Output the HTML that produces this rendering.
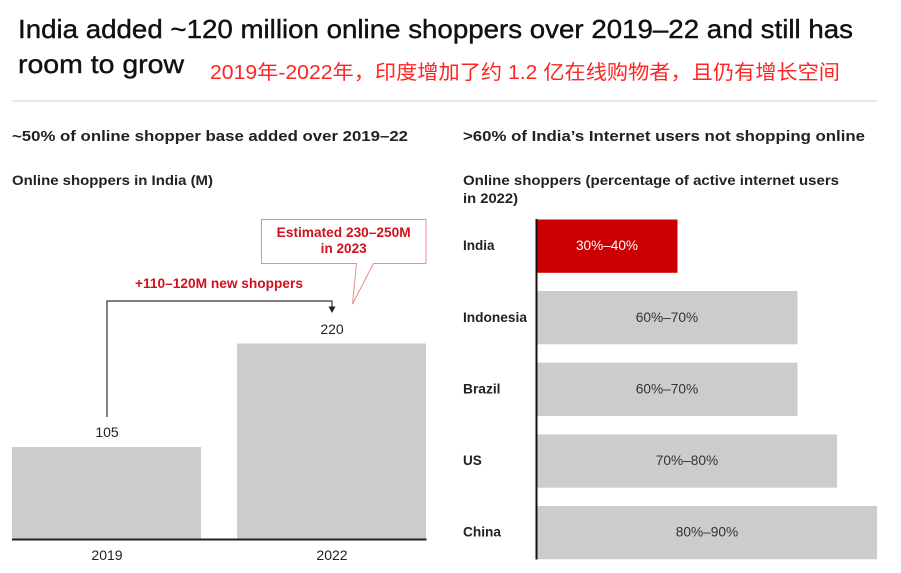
<!DOCTYPE html>
<html><head><meta charset="utf-8">
<style>
html,body{margin:0;padding:0;background:#fff;}
svg{display:block;}
text{font-family:"Liberation Sans","Noto Sans CJK SC",sans-serif;}
</style></head>
<body>
<svg width="901" height="573" viewBox="0 0 901 573" xmlns="http://www.w3.org/2000/svg">
<rect width="901" height="573" fill="#fff"/>
<!-- Title -->
<text x="18" y="38" font-size="26" fill="#111" stroke="#111" stroke-width="0.4" textLength="835" lengthAdjust="spacingAndGlyphs">India added ~120 million online shoppers over 2019–22 and still has</text>
<text x="18" y="73" font-size="26" fill="#111" stroke="#111" stroke-width="0.4" textLength="166" lengthAdjust="spacingAndGlyphs">room to grow</text>
<text x="210" y="79" font-size="20" fill="#ff2424" textLength="630" lengthAdjust="spacingAndGlyphs" style="font-family:'Liberation Sans','Noto Sans CJK SC',sans-serif">2019年-2022年，印度增加了约 1.2 亿在线购物者，且仍有增长空间</text>
<line x1="12" y1="101" x2="877" y2="101" stroke="#dcdcdc" stroke-width="1.2"/>

<!-- Left panel -->
<text x="12" y="141" font-size="14.5" font-weight="bold" fill="#222" textLength="396" lengthAdjust="spacingAndGlyphs">~50% of online shopper base added over 2019–22</text>
<text x="12" y="185" font-size="14" font-weight="bold" fill="#222" textLength="201" lengthAdjust="spacingAndGlyphs">Online shoppers in India (M)</text>

<rect x="12" y="447" width="189" height="92" fill="#cccccc"/>
<rect x="237" y="343.5" width="189" height="195.5" fill="#cccccc"/>
<line x1="12" y1="539.5" x2="426.5" y2="539.5" stroke="#222" stroke-width="2"/>

<text x="107" y="437" font-size="14" fill="#222" text-anchor="middle">105</text>
<text x="332" y="334" font-size="14" fill="#222" text-anchor="middle">220</text>
<text x="107" y="560" font-size="14" fill="#222" text-anchor="middle">2019</text>
<text x="332" y="560" font-size="14" fill="#222" text-anchor="middle">2022</text>

<polyline points="107,417 107,301 332,301 332,308" fill="none" stroke="#333" stroke-width="1.2"/>
<polygon points="328.5,306.5 335.5,306.5 332,313" fill="#222"/>
<text x="219" y="288" font-size="13.5" font-weight="bold" fill="#d0111b" text-anchor="middle" textLength="168" lengthAdjust="spacingAndGlyphs">+110–120M new shoppers</text>

<path d="M261.5,219.5 H426 V263.5 H373.5 L352.5,304 L356.5,263.5 H261.5 Z" fill="#fff" stroke="#ee8a8a" stroke-width="1"/>
<text x="343.7" y="237" font-size="13.5" font-weight="bold" fill="#d0111b" text-anchor="middle" textLength="134" lengthAdjust="spacingAndGlyphs">Estimated 230–250M</text>
<text x="343.7" y="253" font-size="13.5" font-weight="bold" fill="#d0111b" text-anchor="middle" textLength="46" lengthAdjust="spacingAndGlyphs">in 2023</text>

<!-- Right panel -->
<text x="463" y="141" font-size="14.5" font-weight="bold" fill="#222" textLength="402" lengthAdjust="spacingAndGlyphs">&gt;60% of India’s Internet users not shopping online</text>
<text x="463" y="185" font-size="14" font-weight="bold" fill="#222" textLength="376" lengthAdjust="spacingAndGlyphs">Online shoppers (percentage of active internet users</text>
<text x="463" y="203" font-size="14" font-weight="bold" fill="#222" textLength="55" lengthAdjust="spacingAndGlyphs">in 2022)</text>

<rect x="537" y="219.5" width="140.5" height="53.3" fill="#cc0000"/>
<rect x="537" y="291" width="260.5" height="53.3" fill="#cccccc"/>
<rect x="537" y="362.7" width="260.5" height="53.3" fill="#cccccc"/>
<rect x="537" y="434.4" width="300" height="53.3" fill="#cccccc"/>
<rect x="537" y="506" width="340" height="53.3" fill="#cccccc"/>
<line x1="536.5" y1="219" x2="536.5" y2="559.5" stroke="#111" stroke-width="2"/>

<text x="463" y="250" font-size="13.5" font-weight="bold" fill="#222">India</text>
<text x="463" y="322" font-size="13.5" font-weight="bold" fill="#222" textLength="64" lengthAdjust="spacingAndGlyphs">Indonesia</text>
<text x="463" y="393.5" font-size="13.5" font-weight="bold" fill="#222" textLength="37.5" lengthAdjust="spacingAndGlyphs">Brazil</text>
<text x="463" y="465" font-size="13.5" font-weight="bold" fill="#222">US</text>
<text x="463" y="536.5" font-size="13.5" font-weight="bold" fill="#222" textLength="38" lengthAdjust="spacingAndGlyphs">China</text>

<text x="607" y="250" font-size="13.5" fill="#fff" text-anchor="middle" textLength="62" lengthAdjust="spacingAndGlyphs">30%–40%</text>
<text x="667" y="322" font-size="13.5" fill="#333" text-anchor="middle" textLength="62.5" lengthAdjust="spacingAndGlyphs">60%–70%</text>
<text x="667" y="393.5" font-size="13.5" fill="#333" text-anchor="middle" textLength="62.5" lengthAdjust="spacingAndGlyphs">60%–70%</text>
<text x="687" y="465" font-size="13.5" fill="#333" text-anchor="middle" textLength="62.5" lengthAdjust="spacingAndGlyphs">70%–80%</text>
<text x="707" y="536.5" font-size="13.5" fill="#333" text-anchor="middle" textLength="62.5" lengthAdjust="spacingAndGlyphs">80%–90%</text>
</svg>
</body></html>
